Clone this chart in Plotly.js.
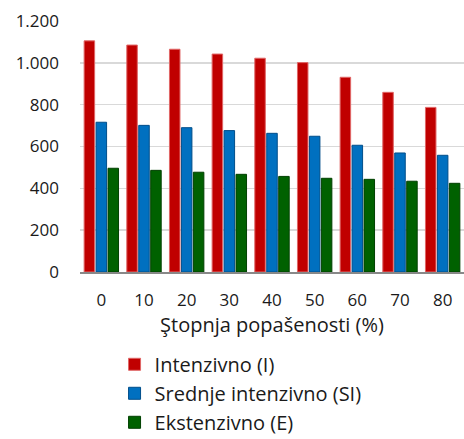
<!DOCTYPE html>
<html>
<head>
<meta charset="utf-8">
<script src="https://cdn.plot.ly/plotly-3.0.1.min.js"></script>
<style>html,body{margin:0;padding:0;background:#fff;}#chart{width:464px;height:439px;}</style>
</head>
<body>
<div id="chart"></div>
<script>
const categories = ["0", "10", "20", "30", "40", "50", "60", "70", "80"];
const seriesNames = ["Intenzivno (I)", "Srednje intenzivno (SI)", "Ekstenzivno (E)"];
const intenzivno = [1105, 1085, 1065, 1042, 1022, 1001, 931, 859, 787];
const srednjeIntenzivno = [716, 701, 690, 676, 663, 649, 606, 569, 558];
const ekstenzivno = [496, 486, 477, 467, 457, 448, 443, 434, 424];
const yTicks = [0, 200, 400, 600, 800, 1000, 1200];
const xTitle = "Ştopnja popašenosti (%)";

const colors = ["#C00000", "#0070C0", "#006100"];
const lineColors = ["#E06666", "#004E8A", "#004000"];
const values = [intenzivno, srednjeIntenzivno, ekstenzivno];

const traces = values.map((v, i) => ({
  type: "bar",
  name: seriesNames[i],
  legendgroup: "g" + i,
  x: categories,
  y: v,
  marker: {color: colors[i], line: {color: lineColors[i], width: 1}},
  hoverinfo: "none"
}));

const font = "'Open Sans', sans-serif";
const layout = {
  width: 464, height: 439,
  margin: {l: 80, r: 0, t: 21, b: 167, autoexpand: false},
  paper_bgcolor: "#fff", plot_bgcolor: "#fff",
  separators: ",.",
  font: {family: font, size: 17, color: "#1a1a1a"},
  barmode: "group",
  bargap: 0.16,
  bargroupgap: 0.12,
  showlegend: true,
  legend: {
    orientation: "v", x: 0.09, xanchor: "left", y: -0.29, yanchor: "top",
    font: {family: font, size: 20, color: "#1a1a1a"},
    traceorder: "normal", itemwidth: 30, tracegroupgap: 13
  },
  xaxis: {
    type: "category",
    showline: true, linecolor: "#888", linewidth: 1.5,
    ticks: "", ticklabelstandoff: 12,
    tickfont: {family: font, size: 17, color: "#1a1a1a"},
    title: {text: xTitle, font: {family: font, size: 20, color: "#1a1a1a"}, standoff: 2}
  },
  yaxis: {
    range: [0, 1200],
    tickvals: yTicks,
    tickformat: ",",
    showgrid: true, gridcolor: "#d9d9d9", gridwidth: 1.5,
    zeroline: false, showline: false, ticks: "",
    ticklabelstandoff: 20,
    tickfont: {family: font, size: 17, color: "#1a1a1a"}
  }
};

Plotly.newPlot("chart", traces, layout, {displayModeBar: false, staticPlot: true});
</script>
</body>
</html>
